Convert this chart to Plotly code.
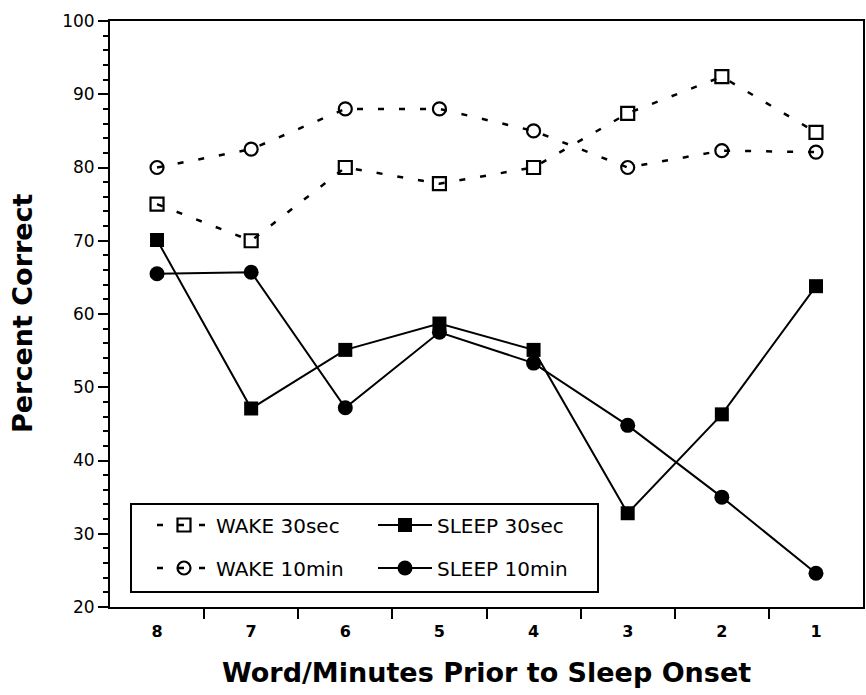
import plotly.graph_objects as go

categories = ['8', '7', '6', '5', '4', '3', '2', '1']
wake_30sec = [75.0, 70.0, 80.0, 77.8, 80.0, 87.4, 92.4, 84.8]
wake_10min = [80.0, 82.5, 88.0, 88.0, 85.0, 80.0, 82.3, 82.1]
sleep_30sec = [70.1, 47.1, 55.1, 58.7, 55.1, 32.8, 46.3, 63.8]
sleep_10min = [65.5, 65.7, 47.2, 57.5, 53.3, 44.8, 35.0, 24.6]
y_ticks = [20, 30, 40, 50, 60, 70, 80, 90, 100]

FONT = "DejaVu Sans"
fig = go.Figure()

fig.add_trace(go.Scatter(
    x=categories, y=wake_30sec, name="WAKE 30sec", mode="lines+markers",
    line=dict(color="black", width=2.5, dash="6px,15px"),
    marker=dict(symbol="square-open", size=13, color="black", line=dict(width=2.2)),
    legend="legend"))
fig.add_trace(go.Scatter(
    x=categories, y=wake_10min, name="WAKE 10min", mode="lines+markers",
    line=dict(color="black", width=2.5, dash="6px,15px"),
    marker=dict(symbol="circle-open", size=13, color="black", line=dict(width=2.2)),
    legend="legend2"))
fig.add_trace(go.Scatter(
    x=categories, y=sleep_30sec, name="SLEEP 30sec", mode="lines+markers",
    line=dict(color="black", width=2),
    marker=dict(symbol="square", size=14, color="black"),
    legend="legend3"))
fig.add_trace(go.Scatter(
    x=categories, y=sleep_10min, name="SLEEP 10min", mode="lines+markers",
    line=dict(color="black", width=2),
    marker=dict(symbol="circle", size=15, color="black"),
    legend="legend4"))

W, H = 866, 695
L, R, T, B = 110, 3, 21, 88
pw, ph = W - L - R, H - T - B

def px(xp):
    return (xp - L) / pw

def py(yp):
    return (H - B - yp) / ph

leg_common = dict(font=dict(family=FONT, size=20, color="black"),
                  bgcolor="rgba(0,0,0,0)", borderwidth=0,
                  xanchor="left", yanchor="middle", itemwidth=54)

fig.update_layout(
    template="none",
    width=W, height=H,
    margin=dict(l=L, r=R, t=T, b=B, autoexpand=False),
    paper_bgcolor="white", plot_bgcolor="white",
    showlegend=True,
    legend=dict(x=px(152), y=py(525), **leg_common),
    legend2=dict(x=px(152), y=py(568), **leg_common),
    legend3=dict(x=px(373), y=py(525), **leg_common),
    legend4=dict(x=px(373), y=py(568), **leg_common),
    xaxis=dict(
        type="category", categoryorder="array", categoryarray=categories,
        tickson="boundaries", ticks="outside", ticklen=10, tickwidth=2,
        tickcolor="black", showline=True, linecolor="black", linewidth=2,
        mirror=True, showgrid=False, zeroline=False, automargin=False,
        ticklabelstandoff=9,
        tickfont=dict(family=FONT, size=16, color="black", weight="bold"),
    ),
    yaxis=dict(
        range=[20, 100], tickvals=y_ticks, ticks="outside", ticklen=10,
        tickwidth=2, tickcolor="black", showline=True, linecolor="black",
        linewidth=2, mirror=True, showgrid=False, zeroline=False, automargin=False,
        tickfont=dict(family=FONT, size=17, color="black"),
        minor=dict(dtick=2, ticks="outside", ticklen=5, tickwidth=1.5,
                   tickcolor="black", showgrid=False),
    ),
    shapes=[dict(type="rect", xref="paper", yref="paper",
                 x0=px(131), x1=px(598), y0=py(592), y1=py(504),
                 line=dict(color="black", width=2))],
    annotations=[
        dict(text="Word/Minutes Prior to Sleep Onset", xref="paper", yref="paper",
             x=0.5, y=py(673), xanchor="center", yanchor="middle", showarrow=False,
             font=dict(family=FONT, size=27, color="black", weight="bold")),
        dict(text="Percent Correct", xref="paper", yref="paper",
             x=px(22), y=py(313), xanchor="center", yanchor="middle", showarrow=False,
             textangle=-90,
             font=dict(family=FONT, size=27, color="black", weight="bold")),
    ],
)

fig.write_html(
    "out.html",
    config={"displayModeBar": False},
    post_script="document.body.style.margin='0';document.body.style.padding='0';"
                "document.body.style.overflow='hidden';",
)
